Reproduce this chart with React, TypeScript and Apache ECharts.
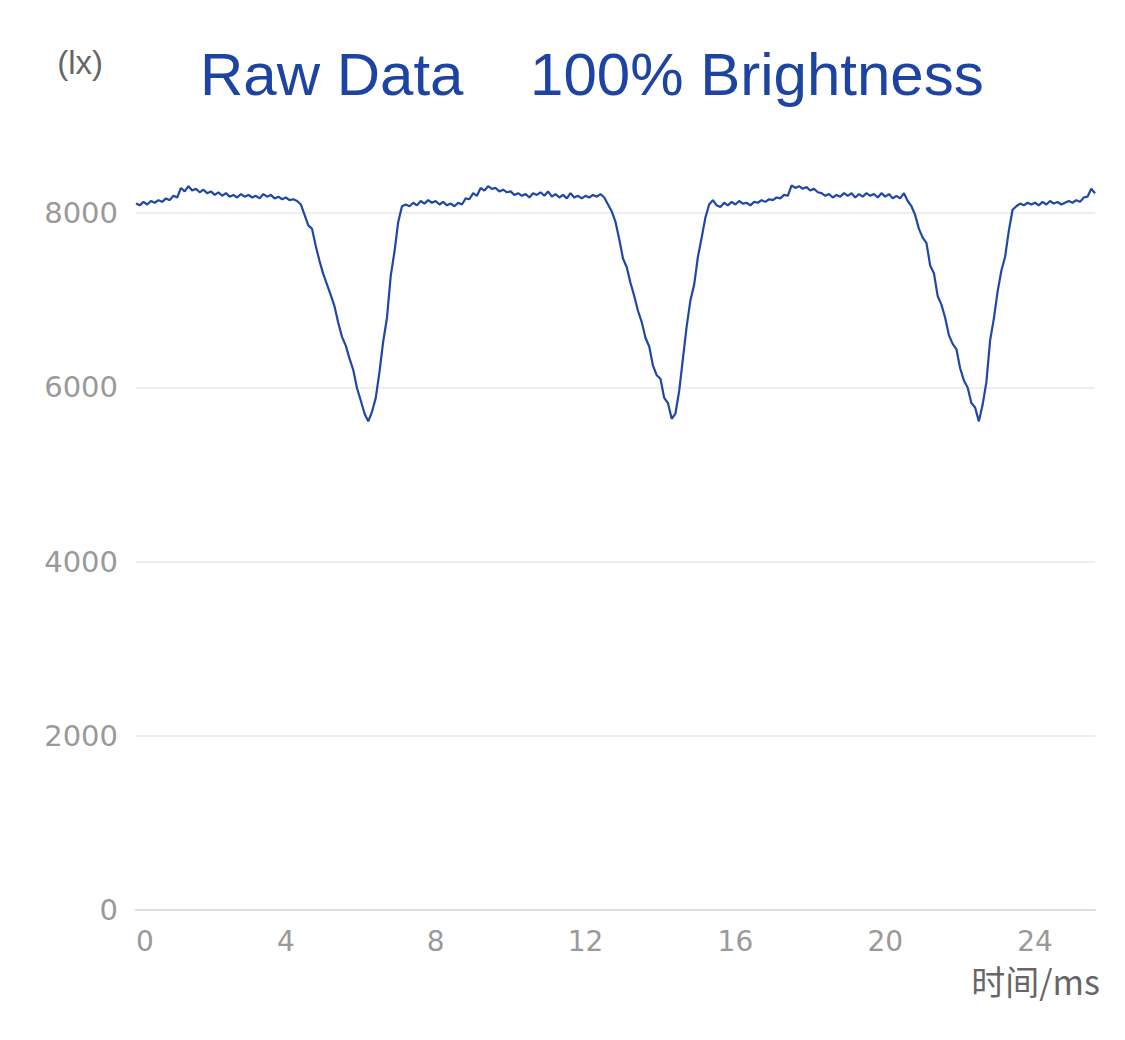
import React, { useEffect, useRef } from "react";
import * as echarts from "echarts";

// Sampling step of the recorded waveform (ms)
const SAMPLE_STEP_MS = 0.1;

// Illuminance readings (lx), one per 0.1 ms from 0 to 25.6 ms
const luxValues: number[] = [
  8110, 8090, 8130, 8100, 8140, 8120, 8150, 8130, 8170, 8150,
  8200, 8180, 8290, 8250, 8310, 8260, 8280, 8240, 8270, 8230,
  8250, 8210, 8240, 8200, 8230, 8190, 8210, 8180, 8220, 8190,
  8210, 8180, 8200, 8170, 8220, 8190, 8210, 8170, 8190, 8160,
  8180, 8150, 8160, 8140, 8100, 7980, 7860, 7820, 7620, 7450,
  7300, 7180, 7060, 6930, 6740, 6580, 6480, 6330, 6200, 5990,
  5850, 5700, 5610, 5720, 5880, 6180, 6530, 6800, 7280, 7560,
  7900, 8080, 8100, 8080, 8120, 8090, 8140, 8110, 8150, 8120,
  8140, 8100, 8130, 8090, 8110, 8080, 8120, 8100, 8170, 8160,
  8230, 8200, 8290, 8260, 8310, 8280, 8290, 8250, 8270, 8240,
  8250, 8210, 8230, 8200, 8220, 8180, 8230, 8210, 8240, 8200,
  8250, 8190, 8220, 8180, 8210, 8170, 8230, 8180, 8200, 8170,
  8200, 8180, 8210, 8190, 8220, 8180, 8100, 8020, 7900, 7700,
  7480, 7380, 7200, 7050, 6880, 6750, 6570, 6470, 6250, 6140,
  6100, 5880, 5820, 5640, 5700, 5960, 6330, 6700, 7000, 7180,
  7500, 7720, 7950, 8100, 8150, 8090, 8070, 8120, 8090, 8130,
  8100, 8140, 8110, 8120, 8090, 8130, 8120, 8150, 8130, 8160,
  8150, 8180, 8170, 8210, 8200, 8320, 8290, 8310, 8280, 8300,
  8260, 8280, 8240, 8230, 8200, 8220, 8180, 8210, 8190, 8230,
  8200, 8230, 8180, 8220, 8190, 8230, 8200, 8220, 8180, 8230,
  8190, 8220, 8170, 8200, 8170, 8230, 8140, 8080, 7980, 7820,
  7720, 7660, 7400, 7310, 7050, 6950, 6800, 6600, 6500, 6440,
  6220, 6080, 6000, 5820, 5770, 5610, 5800, 6060, 6540, 6790,
  7100, 7340, 7500, 7800, 8040, 8080, 8110, 8090, 8120, 8100,
  8120, 8090, 8130, 8100, 8140, 8110, 8130, 8100, 8120, 8140,
  8120, 8150, 8130, 8180, 8190, 8280, 8230,
];

const xAxisMin = 0;
const xAxisMax = 25.6;
const xAxisInterval = 4;
const yAxisMin = 0;
const yAxisMax = 10000;
const yAxisInterval = 2000;

const titleText = "Raw Data\u00a0\u00a0\u00a0\u00a0100% Brightness";
const xAxisName = "时间/ms";
const yAxisName = "(lx)";

export default function App() {
  const ref = useRef<HTMLDivElement>(null);

  useEffect(() => {
    if (!ref.current) return;
    const chart = echarts.init(ref.current, undefined, { renderer: "svg" });

    const seriesData = luxValues.map((v, i) => [
      Number((i * SAMPLE_STEP_MS).toFixed(1)),
      v,
    ]);

    const numFont = "DejaVu Sans";

    chart.setOption({
      animation: false,
      backgroundColor: "#ffffff",
      title: {
        text: titleText,
        left: 200,
        top: 44,
        padding: 0,
        textStyle: {
          fontFamily: "Liberation Sans",
          fontSize: 60,
          fontWeight: "normal",
          color: "#1d44a2",
        },
      },
      grid: {
        left: 136,
        right: 30,
        top: 39,
        bottom: 130,
        containLabel: false,
        outerBoundsMode: "none",
      },
      xAxis: {
        type: "value",
        min: xAxisMin,
        max: xAxisMax,
        interval: xAxisInterval,
        name: xAxisName,
        nameLocation: "end",
        nameGap: 5,
        nameTextStyle: {
          fontFamily: "Noto Sans CJK SC",
          fontSize: 34,
          color: "#666666",
          align: "right",
          verticalAlign: "top",
          padding: [54, 0, 0, 0],
        },
        axisLine: { show: true, lineStyle: { color: "#dddddd", width: 2 } },
        axisTick: { show: false },
        splitLine: { show: false },
        axisLabel: {
          fontFamily: numFont,
          fontSize: 28,
          color: "#999999",
          margin: 17,
          showMaxLabel: false,
          alignMinLabel: "left",
          formatter: (v: number) => String(v),
        },
      },
      yAxis: {
        type: "value",
        min: yAxisMin,
        max: yAxisMax,
        interval: yAxisInterval,
        name: yAxisName,
        nameLocation: "end",
        nameGap: -23,
        nameTextStyle: {
          fontFamily: "Liberation Sans",
          fontSize: 33,
          color: "#666666",
          align: "right",
          verticalAlign: "middle",
          padding: [0, 33, 0, 0],
        },
        axisLine: { show: false },
        axisTick: { show: false },
        axisLabel: {
          fontFamily: numFont,
          fontSize: 29,
          color: "#999999",
          margin: 18,
          showMaxLabel: false,
          formatter: (v: number) => String(v),
        },
        splitLine: {
          show: true,
          showMinLine: false,
          showMaxLine: false,
          lineStyle: { color: "#eeeeee", width: 2 },
        },
      },
      series: [
        {
          type: "line",
          data: seriesData,
          showSymbol: false,
          symbol: "none",
          smooth: false,
          lineStyle: { color: "#1f47a5", width: 2.2 },
          itemStyle: { color: "#1f47a5" },
        },
      ],
    });

    return () => {
      chart.dispose();
    };
  }, []);

  return (
    <div
      ref={ref}
      style={{ position: "fixed", left: 0, top: 0, width: 1125, height: 1040 }}
    />
  );
}
